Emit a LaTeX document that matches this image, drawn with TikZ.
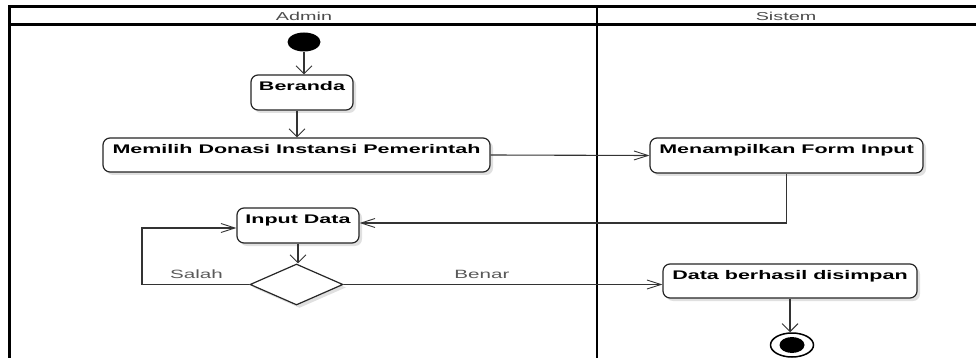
\documentclass[tikz,border=0pt]{standalone}
\usepackage{fontspec}
\setmainfont{Liberation Sans}
\usepackage{graphicx}
\usetikzlibrary{shapes.geometric,arrows.meta,shadows}
\newcommand{\hs}[1]{\scalebox{1.72}[1]{#1}}
\begin{document}
\begin{tikzpicture}[x=1pt,y=-1pt,
  frame/.style={line width=2.5pt, draw=black},
  act/.style={draw=black!85, line width=1.2pt, rounded corners=7pt, fill=white,
    drop shadow={shadow xshift=3pt,shadow yshift=-3pt,opacity=0.12,fill=black},
    inner xsep=0pt, inner ysep=4pt, text height=11.5pt, text depth=15.5pt,
    minimum height=35pt, font=\fontsize{12.5}{15}\selectfont\bfseries},
  conn/.style={line width=1.1pt, draw=black!80},
  va/.style={conn, -{Straight Barb[length=8pt,width=16pt,line width=0.9pt]}},
  ha/.style={conn, -{Straight Barb[length=14pt,width=9pt,line width=0.9pt]}},
  lbl/.style={font=\fontsize{12}{14}\selectfont, text=black!65, inner sep=0pt},
  lane/.style={font=\fontsize{11.5}{14}\selectfont, text=black!70, inner sep=0pt}
]
\useasboundingbox (0,0) rectangle (976,358);
\clip (0,0) rectangle (976,358);
\fill[white] (0,0) rectangle (976,358);

% swimlane frame
\draw[frame] (9.5,360) -- (9.5,6.5) -- (980,6.5);
\draw[frame] (9.5,24.5) -- (980,24.5);
\draw[frame] (597,6.5) -- (597,360);
\node[lane] (admin) at (304,16) {\hs{Admin}};
\node[lane] (sistem) at (786,16) {\hs{Sistem}};

% nodes
\node[ellipse, fill=black, minimum width=33pt, minimum height=19pt, inner sep=0pt] (start) at (304,42) {};
\node[act, minimum width=102pt] (beranda) at (302,92.5) {\hs{Beranda}};
\node[act, minimum width=387pt, minimum height=34pt, text depth=14.5pt] (memilih) at (296.5,155) {\hs{Memilih Donasi Instansi Pemerintah}};
\node[act, minimum width=273pt] (tampil) at (786.5,155.5) {\hs{Menampilkan Form Input}};
\node[act, minimum width=122pt] (input) at (298,225.5) {\hs{Input Data}};
\node[diamond, draw=black!85, line width=1.2pt, fill=white, minimum width=93pt, minimum height=41pt, inner sep=0pt,
  drop shadow={shadow xshift=3pt,shadow yshift=-3pt,opacity=0.12,fill=black}] (dec) at (296.5,284.5) {};
\node[act, minimum width=254pt, minimum height=34pt, text depth=14.5pt] (data) at (790,281) {\hs{Data berhasil disimpan}};
\node[ellipse, draw=black, line width=1.5pt, fill=white, minimum width=43pt, minimum height=24pt, inner sep=0pt] (end) at (792,345) {};
\node[ellipse, fill=black, minimum width=25pt, minimum height=16pt, inner sep=0pt] (endin) at (end.center) {};

\coordinate (loop) at (142,284.5);

% connectors
\draw[va] (start.south) -- (start.south |- beranda.north);
\draw[va] ([xshift=-5pt]beranda.south) -- ([xshift=-5pt]beranda.south |- memilih.north);
\draw[ha] (memilih.east) -- (tampil.west);
\draw[ha] (tampil.south) |- ([yshift=2.5pt]input.east);
\draw[va] (input.south) -- (input.south |- dec.north);
\draw[ha] (dec.west) -- (loop) |- ([yshift=-2.5pt]input.west);
\draw[ha] (dec.east) -- (dec.east -| data.west);
\draw[va] (data.south) -- (data.south |- end.north);

% labels
\node[lbl] (salah) at (196.5,274) {\hs{Salah}};
\node[lbl] (benar) at (482,274) {\hs{Benar}};
\end{tikzpicture}
\end{document}
